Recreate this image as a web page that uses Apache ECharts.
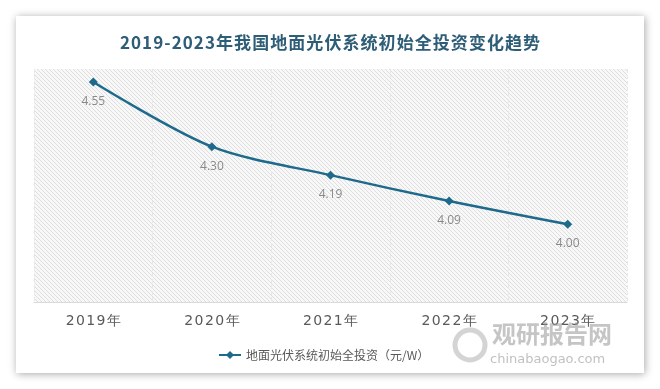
<!DOCTYPE html>
<html><head><meta charset="utf-8">
<script src="https://cdn.jsdelivr.net/npm/echarts@6/dist/echarts.min.js"></script>
<style>html,body{margin:0;padding:0;background:#fff}#c{width:660px;height:389px}</style>
</head><body><div id="c"></div>
<script>
const categories = ['2019年','2020年','2021年','2022年','2023年'];
const values = [4.55, 4.30, 4.19, 4.09, 4.00];
const seriesName = '地面光伏系统初始全投资（元/W）';
const titleText = '2019-2023年我国地面光伏系统初始全投资变化趋势';
const spaced = s => Array.from(s).join('\u200A');

const pc = document.createElement('canvas');
pc.width = 4; pc.height = 4;
const pctx = pc.getContext('2d');
pctx.fillStyle = '#f8f8f8'; pctx.fillRect(0,0,4,4);
pctx.strokeStyle = '#dedede'; pctx.lineWidth = 1;
pctx.beginPath();
pctx.moveTo(0,0); pctx.lineTo(4,4);
pctx.moveTo(-2,2); pctx.lineTo(2,6);
pctx.moveTo(2,-2); pctx.lineTo(6,2);
pctx.stroke();

const chart = echarts.init(document.getElementById('c'));
chart.setOption({
  backgroundColor: '#ffffff',
  animation: false,
  graphic: [
    {type:'rect', shape:{x:16,y:16,width:628,height:357}, style:{fill:'#fff', shadowBlur:8, shadowColor:'rgba(0,0,0,0.35)', shadowOffsetX:1, shadowOffsetY:1}, z:-10},
    {type:'text', left:492, top:322, style:{text:'观研报告网', font:'bold 24px "Noto Sans CJK SC"', fill:'rgba(150,150,150,0.55)'}, z:10},
    {type:'text', left:490, top:353, style:{text:'chinabaogao.com', font:'13px "DejaVu Sans"', fill:'rgba(150,150,150,0.6)'}, z:10},
    {type:'circle', shape:{cx:470,cy:345,r:15}, style:{fill:'none', stroke:'rgba(170,170,170,0.5)', lineWidth:5}, z:10}
  ],
  title: {
    text: spaced(titleText), left: 'center', top: 29,
    textStyle: {fontFamily:'"Noto Sans CJK SC"', fontSize:17, fontWeight:'bold', color:'#2d5d77'}
  },
  grid: {left:34, right:33, top:69, bottom:87, show:true, backgroundColor:{image:pc, repeat:'repeat'}, borderWidth:0},
  legend: {
    data:[seriesName], left: 213, top: 344, itemWidth: 22, itemHeight: 10,
    textStyle: {fontFamily:'"Noto Sans CJK SC"', fontSize:12, color:'#595959'}
  },
  xAxis: {
    type:'category', data: categories, boundaryGap: true,
    axisLine: {show:true, lineStyle:{color:'#d9d9d9'}},
    axisTick: {show:false},
    axisLabel: {color:'#595959', fontSize:14, margin:12, fontFamily:'"DejaVu Sans"', formatter: v => spaced(v)},
    splitLine: {show:true, interval:0, lineStyle:{color:'#e8e8e8', type:'dashed'}}
  },
  yAxis: {
    type:'value', min:3.7, max:4.6, show:false, splitLine:{show:false}
  },
  series: [{
    name: seriesName, type:'line', data: values, smooth: 0.3,
    symbol:'diamond', symbolSize: 9,
    lineStyle:{color:'#1e6a8c', width:2.5},
    itemStyle:{color:'#1e6a8c'},
    label:{show:true, position:'bottom', distance:9, color:'#8a8a8a', fontSize:12, fontFamily:'"Open Sans"', formatter: p => p.value.toFixed(2)}
  }]
});
</script></body></html>
